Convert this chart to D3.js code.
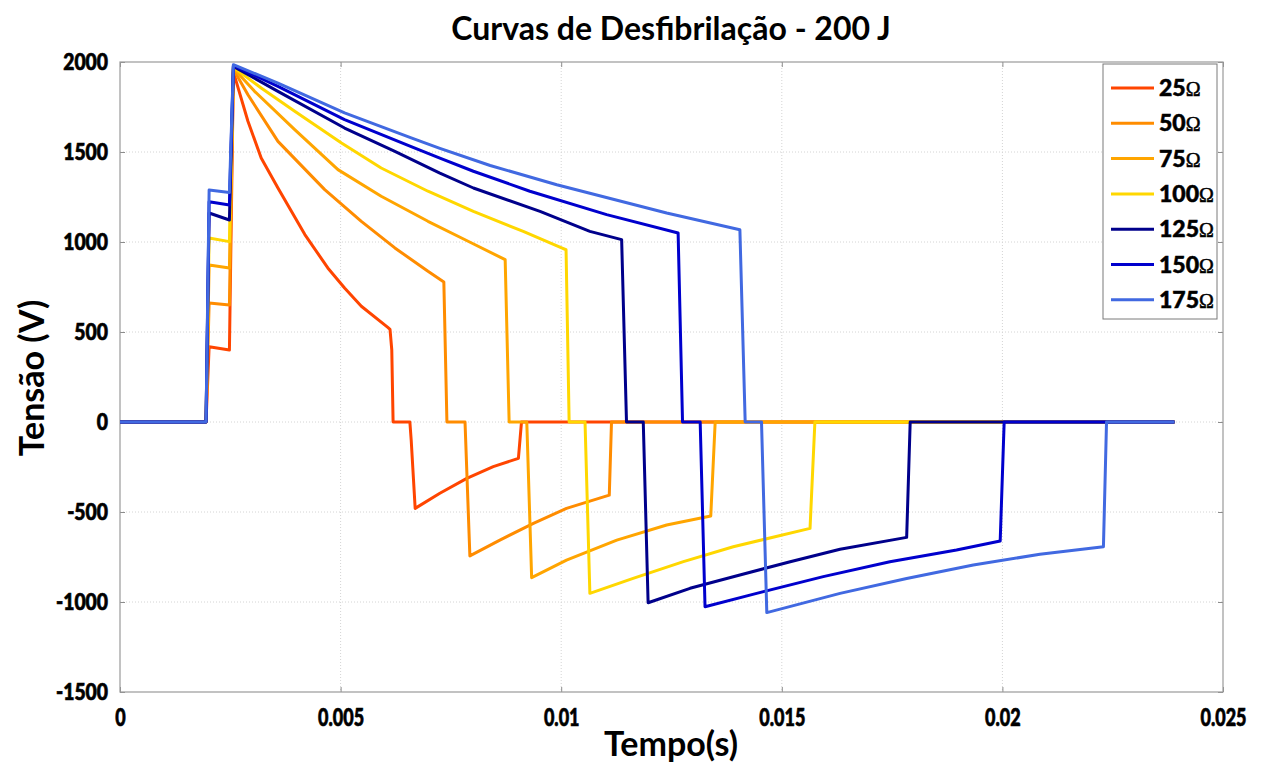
<!DOCTYPE html>
<html>
<head>
<meta charset="utf-8">
<script src="https://cdn.jsdelivr.net/npm/d3@7"></script>
<style>
  body { margin: 0; background: #fff; }
  text { font-family: Lato, "Open Sans", sans-serif; font-weight: bold; fill: #000; }
</style>
</head>
<body>
<svg id="chart" width="1268" height="763"></svg>
<script>
// resistance labels and colours (legend order)
var labels = ["25", "50", "75", "100", "125", "150", "175"];
var colors = ["#FF4500", "#FF8C00", "#FFA500", "#FFD700", "#00008B", "#0000CD", "#4169E1"];

// [tempo (s), tensao (V)]
var r25 = [[0,0],[0.00195,0],[0.00202,418],[0.00248,400],[0.00257,1945],[0.0029,1671],[0.0032,1467],[0.00358,1300],[0.00419,1041],[0.00471,856],[0.00509,744],[0.00547,643],[0.00607,526],[0.00612,515],[0.00616,400],[0.00619,0],[0.00657,0],[0.0066,-100],[0.00669,-480],[0.00725,-396],[0.00786,-313],[0.00846,-248],[0.00903,-202],[0.0091,0],[0.0239,0]];
var r50 = [[0,0],[0.00195,0],[0.00202,661],[0.00248,650],[0.00257,1960],[0.0029,1818],[0.00358,1559],[0.00464,1291],[0.00547,1115],[0.00623,967],[0.00698,837],[0.00734,778],[0.00741,0],[0.00782,0],[0.00793,-744],[0.00861,-656],[0.00937,-563],[0.01012,-480],[0.01109,-406],[0.01114,0],[0.0239,0]];
var r75 = [[0,0],[0.00195,0],[0.00202,872],[0.00248,855],[0.00257,1965],[0.00305,1837],[0.00396,1624],[0.00494,1402],[0.00592,1254],[0.00698,1115],[0.00789,1004],[0.00873,902],[0.00882,0],[0.00922,0],[0.00933,-865],[0.01012,-767],[0.01126,-656],[0.01239,-572],[0.01339,-522],[0.01349,0],[0.0239,0]];
var r100 = [[0,0],[0.00195,0],[0.00202,1022],[0.00248,1002],[0.00257,1970],[0.0032,1856],[0.00396,1726],[0.00502,1550],[0.00592,1411],[0.00698,1282],[0.00801,1170],[0.00914,1059],[0.01001,967],[0.01011,957],[0.01018,0],[0.01054,0],[0.01065,-952],[0.01163,-869],[0.01277,-776],[0.0139,-693],[0.01564,-591],[0.01575,0],[0.0239,0]];
var r125 = [[0,0],[0.00195,0],[0.00202,1161],[0.00248,1122],[0.00257,1975],[0.00358,1837],[0.00509,1633],[0.00623,1504],[0.00725,1383],[0.00801,1300],[0.00952,1170],[0.01065,1059],[0.01137,1013],[0.01148,0],[0.01186,0],[0.01197,-1004],[0.01292,-924],[0.01405,-850],[0.01519,-776],[0.01632,-707],[0.01783,-641],[0.01791,0],[0.0239,0]];
var r150 = [[0,0],[0.00195,0],[0.00202,1224],[0.00248,1205],[0.00257,1980],[0.00358,1865],[0.00509,1680],[0.0066,1530],[0.00725,1466],[0.00801,1393],[0.00929,1282],[0.01103,1152],[0.01265,1050],[0.01275,0],[0.01315,0],[0.01326,-1026],[0.01443,-952],[0.01594,-859],[0.01745,-776],[0.01896,-711],[0.01995,-661],[0.02004,0],[0.0239,0]];
var r175 = [[0,0],[0.00195,0],[0.00202,1289],[0.00248,1275],[0.00257,1985],[0.00358,1883],[0.00509,1717],[0.0066,1578],[0.00725,1520],[0.00839,1425],[0.0099,1318],[0.01239,1161],[0.01405,1068],[0.01417,0],[0.01454,0],[0.01466,-1059],[0.01632,-952],[0.01783,-869],[0.01934,-794],[0.02085,-735],[0.02229,-693],[0.02236,0],[0.0239,0]];
var series = [r25, r50, r75, r100, r125, r150, r175];

var xTicks = [0, 0.005, 0.01, 0.015, 0.02, 0.025];
var yTicks = [-1500, -1000, -500, 0, 500, 1000, 1500, 2000];

var svg = d3.select("#chart"),
    margin = {top: 62, right: 45, bottom: 71, left: 120},
    width = +svg.attr("width") - margin.left - margin.right,
    height = +svg.attr("height") - margin.top - margin.bottom,
    g = svg.append("g").attr("transform", "translate(" + margin.left + "," + margin.top + ")");

var x = d3.scaleLinear().domain([0, 0.025]).range([0, width]);
var y = d3.scaleLinear().domain([-1500, 2000]).range([height, 0]);

// squeeze text horizontally (the original labels look condensed)
function squeeze(sel, f) {
  sel.each(function() {
    var w = this.getComputedTextLength();
    d3.select(this).attr("textLength", w * f).attr("lengthAdjust", "spacingAndGlyphs");
  });
}

// dotted grid
g.selectAll(".gx").data(xTicks.slice(1, -1)).enter().append("line")
  .attr("x1", function(d) { return x(d); }).attr("x2", function(d) { return x(d); })
  .attr("y1", 0).attr("y2", height)
  .attr("stroke", "#d4d4d4").attr("stroke-dasharray", "1,2");
g.selectAll(".gy").data(yTicks.slice(1, -1)).enter().append("line")
  .attr("y1", function(d) { return y(d); }).attr("y2", function(d) { return y(d); })
  .attr("x1", 0).attr("x2", width)
  .attr("stroke", "#d4d4d4").attr("stroke-dasharray", "1,2");

function fmt(d) { return String(d); }

var xAxis = g.append("g").attr("transform", "translate(0," + height + ")")
  .call(d3.axisBottom(x).tickValues(xTicks).tickFormat(fmt).tickSizeInner(-5).tickSizeOuter(0).tickPadding(16));
var yAxis = g.append("g")
  .call(d3.axisLeft(y).tickValues(yTicks).tickFormat(fmt).tickSizeInner(-5).tickSizeOuter(0).tickPadding(12));
var topAxis = g.append("g")
  .call(d3.axisTop(x).tickValues(xTicks).tickFormat("").tickSizeInner(-5).tickSizeOuter(0));
var rightAxis = g.append("g").attr("transform", "translate(" + width + ",0)")
  .call(d3.axisRight(y).tickValues(yTicks).tickFormat("").tickSizeInner(-5).tickSizeOuter(0));

[xAxis, yAxis, topAxis, rightAxis].forEach(function(a) {
  a.select(".domain").remove();
  a.selectAll("line").attr("stroke", "#8c8c8c");
  a.selectAll("text").style("font-family", "Lato, sans-serif").style("font-weight", "900")
    .attr("fill", "#000").attr("stroke", "#000").attr("stroke-width", 0.7);
});
xAxis.selectAll("text").style("font-size", "25px");
yAxis.selectAll("text").style("font-size", "23px");
squeeze(xAxis.selectAll("text"), 0.72);
squeeze(yAxis.selectAll("text"), 0.84);

g.append("rect").attr("width", width).attr("height", height)
  .attr("fill", "none").attr("stroke", "#9a9a9a").attr("stroke-width", 1.2);

var line = d3.line()
  .x(function(d) { return x(d[0]); })
  .y(function(d) { return y(d[1]); });

g.selectAll(".curve").data(series).enter().append("path")
  .attr("class", "curve")
  .attr("d", line)
  .attr("fill", "none")
  .attr("stroke", function(d, i) { return colors[i]; })
  .attr("stroke-width", 3)
  .attr("stroke-linejoin", "round");

// titles
svg.append("text").attr("x", 671).attr("y", 40).attr("text-anchor", "middle")
  .style("font-size", "32px").text("Curvas de Desfibrilação - 200 J");
svg.append("text").attr("x", 671).attr("y", 756).attr("text-anchor", "middle")
  .style("font-size", "34px").text("Tempo(s)");
svg.append("text").attr("transform", "translate(44,378) rotate(-90)").attr("text-anchor", "middle")
  .style("font-size", "34px").text("Tensão (V)");

// legend
var legend = svg.append("g").attr("transform", "translate(1103,64)");
legend.append("rect").attr("width", 114).attr("height", 255)
  .attr("fill", "#fff").attr("stroke", "#7a7a7a").attr("stroke-width", 1);
var items = legend.selectAll(".item").data(labels).enter().append("g")
  .attr("transform", function(d, i) { return "translate(0," + (24 + i * 35.3) + ")"; });
items.append("line").attr("x1", 8).attr("x2", 51).attr("y1", 0).attr("y2", 0)
  .attr("stroke", function(d, i) { return colors[i]; }).attr("stroke-width", 3);
var lt = items.append("text").attr("x", 56).attr("y", 8).style("font-size", "23px").style("font-weight", "900")
  .attr("stroke", "#000").attr("stroke-width", 0.5);
lt.append("tspan").text(function(d) { return d; });
lt.append("tspan").style("font-family", "'Liberation Serif', serif").style("font-weight", "normal").style("font-size", "20px").text("Ω");
</script>
</body>
</html>
